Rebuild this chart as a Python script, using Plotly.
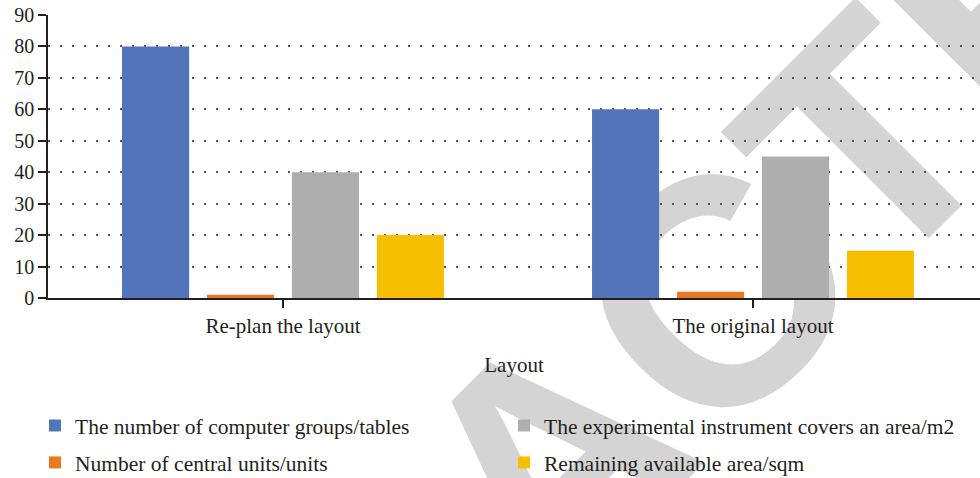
import base64
import plotly.graph_objects as go

categories = ["Re-plan the layout", "The original layout"]
series_names = [
    "The number of computer groups/tables",
    "Number of central units/units",
    "The experimental instrument covers an area/m2",
    "Remaining available area/sqm",
]
computer_groups = [80, 60]
central_units = [1, 2]
instrument_area = [40, 45]
remaining_area = [20, 15]
y_ticks = [0, 10, 20, 30, 40, 50, 60, 70, 80, 90]

series_values = [computer_groups, central_units, instrument_area, remaining_area]
colors = ["#5274BA", "#E97A22", "#AEAEAE", "#F8BF00"]
legend_ids = ["legend", "legend", "legend2", "legend2"]

W_FIG, H_FIG = 980, 478
L, R, T, B = 48, 0, 15, 180
PW, PH = W_FIG - L - R, H_FIG - T - B

FONT = "Liberation Serif, Times New Roman, serif"
TXT = "#231f20"

fig = go.Figure()
for i, (name, vals, col, lg) in enumerate(zip(series_names, series_values, colors, legend_ids)):
    fig.add_trace(go.Bar(
        x=categories, y=vals, name=name, marker_color=col,
        marker_line_width=0, legend=lg, legendgroup=f"g{i}",
    ))

# watermark (drawn beneath everything)
cx, cy = 628, 539
svg = (
    f'<svg xmlns="http://www.w3.org/2000/svg" width="{W_FIG}" height="{H_FIG}" '
    f'viewBox="0 0 {W_FIG} {H_FIG}">'
    f'<text x="{cx}" y="{cy}" transform="rotate(-45 {cx} {cy})" text-anchor="middle" '
    f'font-family="Liberation Sans, Arial, sans-serif" font-weight="bold" font-size="323" '
    f'fill="#d4d4d4">RETRACTED</text></svg>'
)
src = "data:image/svg+xml;base64," + base64.b64encode(svg.encode()).decode()
fig.add_layout_image(dict(
    source=src, xref="paper", yref="paper",
    x=-L / PW, y=1 + T / PH, sizex=W_FIG / PW, sizey=H_FIG / PH,
    xanchor="left", yanchor="top", sizing="stretch", layer="below",
))

legend_common = dict(
    orientation="v", xref="container", yref="container", xanchor="left",
    y=(H_FIG - 405) / H_FIG, yanchor="top",
    font=dict(family=FONT, size=21.5, color=TXT),
    bgcolor="rgba(0,0,0,0)", traceorder="grouped", tracegroupgap=6,
)

fig.update_layout(
    width=W_FIG, height=H_FIG,
    margin=dict(l=L, r=R, t=T, b=B, pad=0, autoexpand=False),
    paper_bgcolor="white", plot_bgcolor="rgba(0,0,0,0)",
    barmode="group", bargap=0.277, bargroupgap=0.21,
    font=dict(family=FONT, size=21, color=TXT),
    showlegend=True,
    legend=dict(x=35 / W_FIG, **legend_common),
    legend2=dict(x=504 / W_FIG, **legend_common),
    xaxis=dict(
        range=[-0.5, -0.5 + PW / 470], showgrid=False, zeroline=False,
        automargin=False,
        showline=True, linecolor=TXT, linewidth=1.5,
        ticks="outside", ticklen=8, tickcolor=TXT, tickwidth=1.5,
        tickfont=dict(family=FONT, size=21, color=TXT),
        title=dict(text="Layout", standoff=20,
                   font=dict(family=FONT, size=21, color=TXT)),
    ),
    yaxis=dict(
        range=[0, 90], tickvals=y_ticks, showgrid=True, automargin=False,
        gridcolor="#555555", gridwidth=1.5, griddash="2px,10px",
        zeroline=False, showline=True, linecolor=TXT, linewidth=1.5,
        ticks="outside", ticklen=8, tickcolor=TXT, tickwidth=1.5,
        tickfont=dict(family=FONT, size=20, color=TXT),
    ),
)

fig.write_html("out.html")
